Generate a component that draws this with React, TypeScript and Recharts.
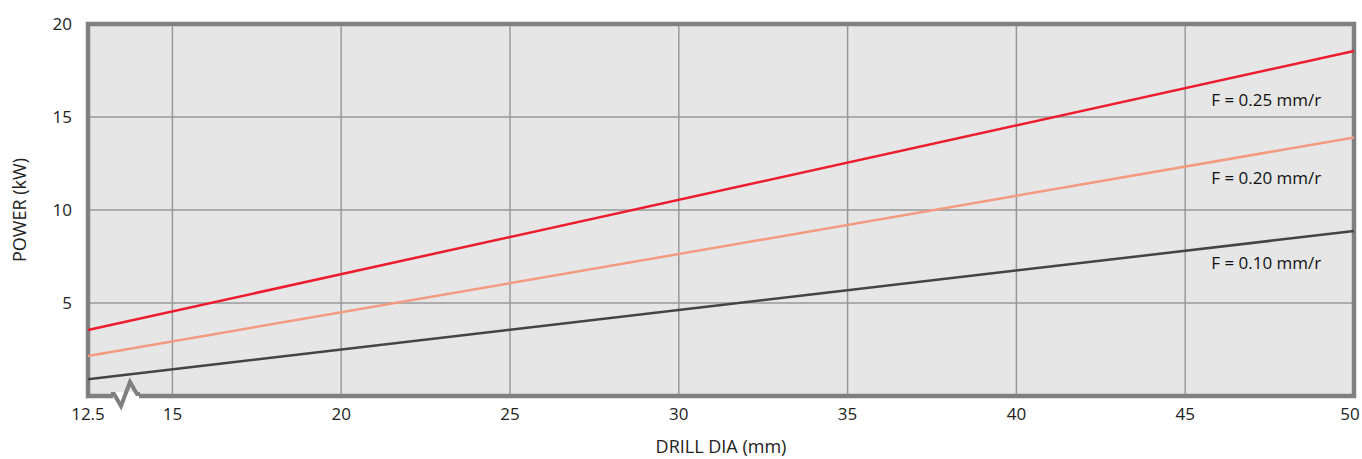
import React from "react";
import { LineChart, Line, XAxis, YAxis, CartesianGrid, ReferenceArea, ReferenceDot } from "recharts";

// drill diameter (mm) at the two ends of each line
const drillDia = [12.5, 50];
const feed010 = [0.9, 8.87];
const feed020 = [2.15, 13.9];
const feed025 = [3.55, 18.55];

const xTicks = [12.5, 15, 20, 25, 30, 35, 40, 45, 50];
const yTicks = [5, 10, 15, 20];

const labelX = 47.4;
const labelY = [15.9, 11.7, 7.15];
const labelText = ["F = 0.25 mm/r", "F = 0.20 mm/r", "F = 0.10 mm/r"];

const data = drillDia.map((d, i) => ({
  dia: d,
  f010: feed010[i],
  f020: feed020[i],
  f025: feed025[i],
}));

const FONT = "'Open Sans', sans-serif";
const tickStyle = { fill: "#222", fontSize: 17, fontFamily: FONT };

// last label would run off the right edge, nudge it in
const XTick = (props: any) => {
  const { x, y, payload } = props;
  const last = payload.value === xTicks[xTicks.length - 1];
  return (
    <text x={last ? x - 4 : x} y={y} dy="0.71em" textAnchor="middle" {...tickStyle}>
      {payload.value}
    </text>
  );
};

const App: React.FC = () => {
  return (
    <div style={{ position: "absolute", left: 0, top: 0, width: 1362, height: 459, background: "#fff" }}>
      <LineChart width={1362} height={459} data={data} margin={{ top: 24, right: 8, left: 0, bottom: 0 }}>
        <CartesianGrid fill="#e6e6e6" stroke="#999" strokeWidth={1.5} verticalValues={xTicks} horizontalValues={yTicks} />
        <XAxis
          dataKey="dia"
          type="number"
          domain={[12.5, 50]}
          ticks={xTicks}
          interval={0}
          tickLine={false}
          axisLine={false}
          tickMargin={6}
          height={63}
          tick={<XTick />}
          label={{ value: "DRILL DIA (mm)", position: "insideBottom", offset: 6, fill: "#222", fontSize: 18, fontFamily: FONT }}
        />
        <YAxis
          type="number"
          domain={[0, 20]}
          ticks={yTicks}
          interval={0}
          tickLine={false}
          axisLine={false}
          tickMargin={10}
          width={88}
          tick={tickStyle}
          label={{ value: "POWER (kW)", angle: -90, position: "insideLeft", offset: 20, fill: "#222", fontSize: 18, fontFamily: FONT, style: { textAnchor: "middle" } }}
        />
        <ReferenceArea x1={12.5} x2={50} y1={0} y2={20} fill="none" stroke="#808080" strokeWidth={4.5} ifOverflow="visible" />
        <Line type="linear" dataKey="f010" stroke="#444444" strokeWidth={2.5} dot={false} isAnimationActive={false} />
        <Line type="linear" dataKey="f020" stroke="#f39a80" strokeWidth={2.5} dot={false} isAnimationActive={false} />
        <Line type="linear" dataKey="f025" stroke="#ed1c2e" strokeWidth={2.5} dot={false} isAnimationActive={false} />
        {labelText.map((t, i) => (
          <ReferenceDot
            key={t}
            x={labelX}
            y={labelY[i]}
            r={0}
            fill="none"
            stroke="none"
            label={{ value: t, position: "center", fill: "#111", fontSize: 17, fontFamily: FONT }}
          />
        ))}
      </LineChart>
      <svg width={1362} height={459} style={{ position: "absolute", left: 0, top: 0, pointerEvents: "none" }}>
        <rect x={113} y={392} width={26} height={7} fill="#fff" />
        <rect x={113} y={388} width={26} height={4} fill="#e6e6e6" />
        <polyline points="111,394 114,394 121,406 130,382 137,394 140,394" fill="none" stroke="#808080" strokeWidth={4} strokeLinejoin="miter" />
      </svg>
    </div>
  );
};

export default App;
